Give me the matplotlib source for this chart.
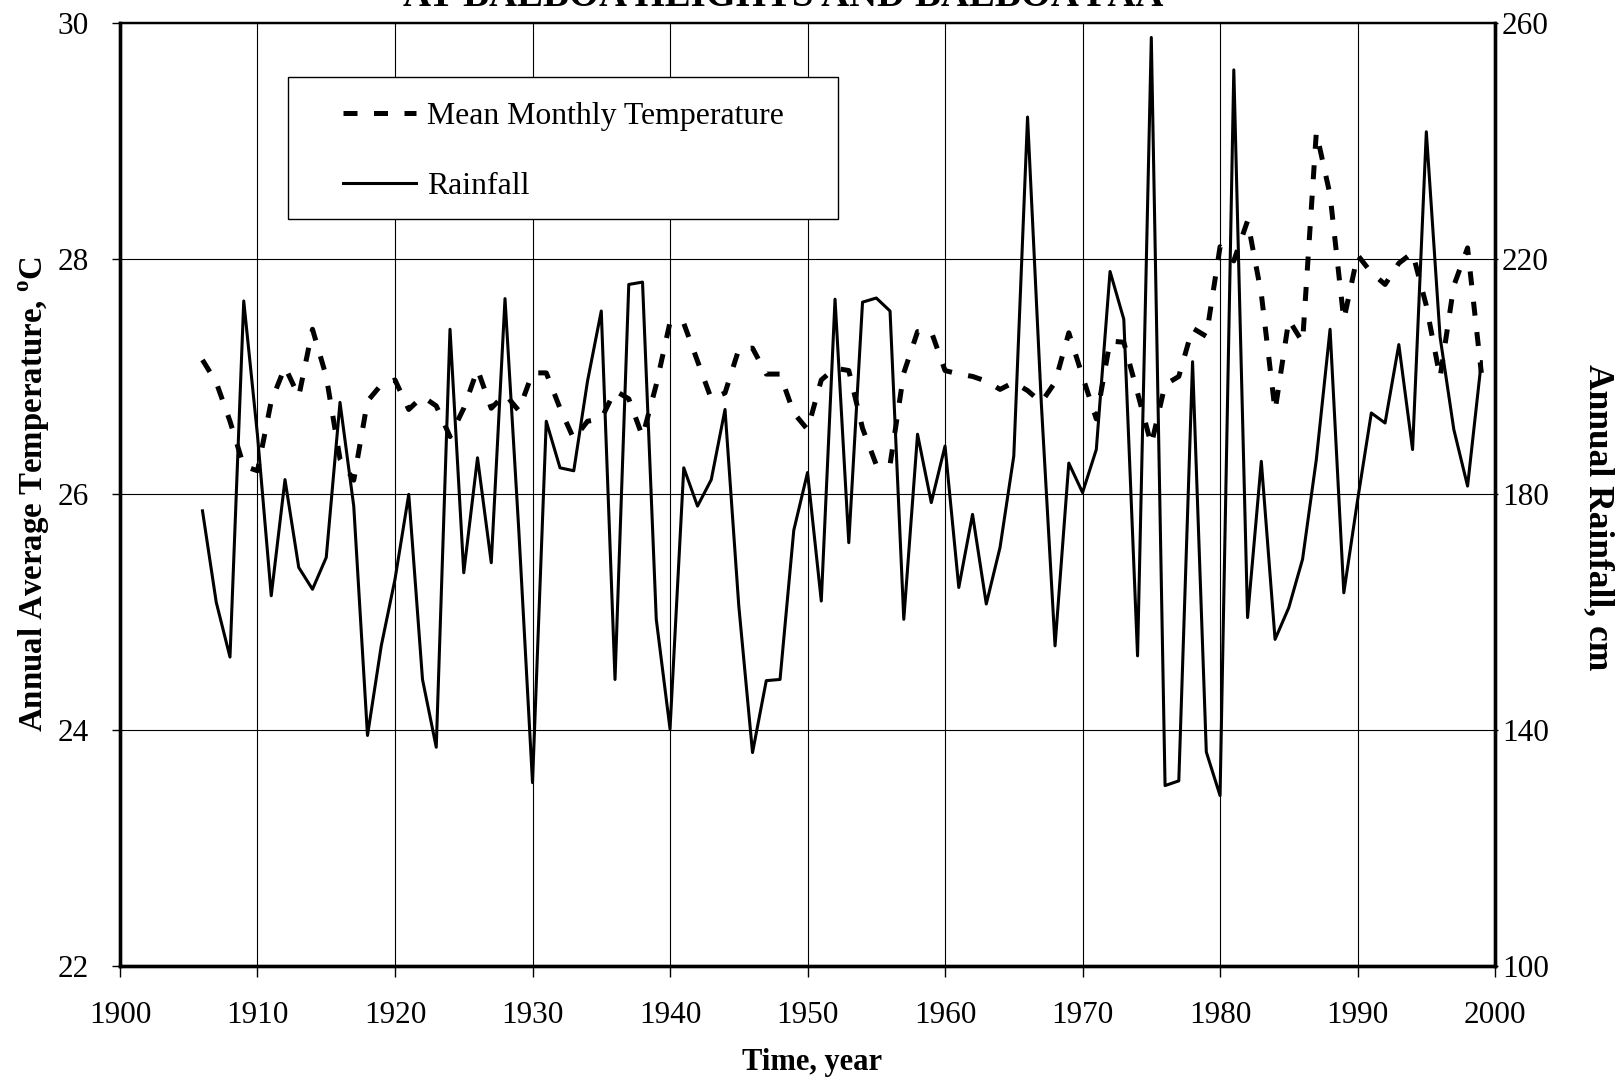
import matplotlib
matplotlib.use('Agg')
import matplotlib.pyplot as plt
from matplotlib.patches import Rectangle

plt.rcParams['font.family'] = 'Liberation Serif'
plt.rcParams['mathtext.fontset'] = 'custom'
plt.rcParams['mathtext.rm'] = 'Liberation Serif'
plt.rcParams['mathtext.bf'] = 'Liberation Serif:bold'

# data
years = list(range(1906, 2000))

temperature = [27.14, 26.95, 26.62, 26.24, 26.20, 26.79, 27.08, 26.83, 27.40, 27.00,
               26.30, 26.12, 26.79, 26.93, 26.97, 26.72, 26.83, 26.75, 26.49, 26.73,
               27.06, 26.73, 26.85, 26.71, 27.03, 27.03, 26.73, 26.47, 26.62, 26.64,
               26.88, 26.81, 26.49, 26.93, 27.46, 27.45, 27.13, 26.81, 26.86, 27.23,
               27.24, 27.02, 27.02, 26.69, 26.55, 26.97, 27.07, 27.05, 26.56, 26.25,
               26.25, 27.03, 27.38, 27.38, 27.05, 27.02, 27.00, 26.96, 26.89, 26.95,
               26.88, 26.78, 26.95, 27.37, 27.00, 26.64, 27.30, 27.29, 26.86, 26.42,
               26.93, 27.00, 27.41, 27.34, 28.10, 27.98, 28.32, 27.70, 26.71, 27.48,
               27.29, 29.07, 28.54, 27.48, 28.03, 27.88, 27.78, 27.96, 28.05, 27.60,
               26.99, 27.77, 28.09, 27.03]

rainfall = [177.2, 161.7, 152.4, 212.8, 190.0, 162.8, 182.5, 167.6, 163.9, 169.3,
            195.6, 178.0, 139.1, 154.3, 165.6, 180.0, 148.6, 137.1, 208.0, 166.7,
            186.2, 168.4, 213.2, 174.0, 131.1, 192.4, 184.5, 184.0, 199.2, 211.1,
            148.6, 215.6, 216.0, 158.8, 140.2, 184.5, 178.0, 182.5, 194.4, 161.1,
            136.2, 148.4, 148.6, 173.9, 183.7, 161.9, 213.1, 171.8, 212.6, 213.3,
            211.1, 158.8, 190.2, 178.6, 188.2, 164.2, 176.6, 161.4, 171.0, 186.5,
            244.0, 195.5, 154.3, 185.3, 180.3, 187.6, 217.8, 209.7, 152.6, 257.5,
            130.6, 131.4, 202.5, 136.3, 128.9, 252.0, 159.1, 185.6, 155.4, 160.8,
            169.0, 185.9, 208.0, 163.3, 179.0, 193.8, 192.1, 205.4, 187.6, 241.5,
            206.7, 191.0, 181.4, 202.5]

x_ticks = list(range(1900, 2001, 10))
temp_ticks = [22, 24, 26, 28, 30]
rain_ticks = [100, 140, 180, 220, 260]

fig = plt.figure(figsize=(16.17, 10.81), dpi=100)
ax = fig.add_axes([0.0742, 0.1064, 0.8504, 0.8726])
ax2 = ax.twinx()

t_line, = ax.plot(years, temperature, color='black', lw=3.6,
                  dashes=(2.8, 3.3), dash_capstyle='butt',
                  label='Mean Monthly Temperature')
r_line, = ax2.plot(years, rainfall, color='black', lw=2.2,
                   label='Rainfall')

ax.set_xlim(1900, 2000)
ax.set_ylim(22, 30)
ax2.set_ylim(100, 260)
ax.set_xticks(x_ticks)
ax.set_yticks(temp_ticks)
ax2.set_yticks(rain_ticks)

ax.grid(True, color='black', lw=0.8)
ax.tick_params(axis='x', direction='out', length=8, width=1, pad=17, labelsize=22.5)
ax.tick_params(axis='y', direction='out', length=6, width=1, pad=16.5, labelsize=22.5)
ax2.tick_params(axis='y', direction='out', length=2, width=1, pad=3, labelsize=22.5)

for a in (ax, ax2):
    for side in ('left', 'right', 'bottom'):
        a.spines[side].set_linewidth(2.4)
    a.spines['top'].set_linewidth(1.6)

ax.set_xlabel('Time, year', fontsize=22, fontweight='bold')
ax.set_ylabel(r'Annual Average Temperature, $^{\mathbf{o}}$C', fontsize=23.7,
              fontweight='bold')
ax2.set_ylabel('Annual Rainfall, cm', fontsize=25.5, fontweight='bold',
               rotation=-90, va='bottom')
ax.xaxis.set_label_coords(0.5033, -0.087)
ax.yaxis.set_label_coords(-0.0496, 0.5004)
ax2.yaxis.set_label_coords(1.0635, 0.4755)

# legend box
frame = Rectangle((0.1219, 0.7923), 0.4004, 0.1498, transform=ax2.transAxes,
                  facecolor='white', edgecolor='black', lw=1.0, zorder=5)
ax2.add_patch(frame)
leg = ax2.legend([t_line, r_line], ['Mean Monthly Temperature', 'Rainfall'],
                 loc='center left', bbox_to_anchor=(0.1622, 0.8634),
                 frameon=False, fontsize=22.9, borderpad=0, borderaxespad=0,
                 handlelength=2.3, handletextpad=0.35, labelspacing=1.28)
leg.set_zorder(6)

# title, cut off by the top edge in the scan
fig.text(0.4846, 1 - 6 / 1081, 'AT BALBOA HEIGHTS AND BALBOA FAA',
         ha='center', va='baseline', fontsize=28, fontweight='bold')

fig.savefig('out.png', dpi=100)
